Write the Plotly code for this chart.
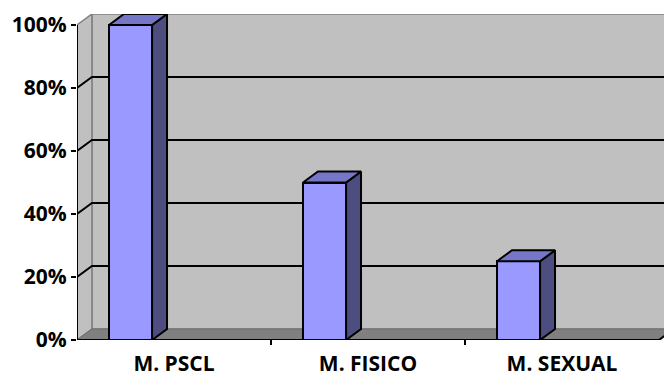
import plotly.graph_objects as go

categories = ["M. PSCL", "M. FISICO", "M. SEXUAL"]
values = [1.00, 0.50, 0.25]
y_ticks = [0, 0.2, 0.4, 0.6, 0.8, 1.0]

# 3-D box depth (axis units) and bar geometry within each category slot
DX = 0.077
DY = 0.035
BAR_W = 0.222
BAR_OFF = -0.335

WALL = "#C0C0C0"
FLOOR = "#808080"
EDGE = "#808080"
FRONT = "#9999FF"
TOP = "#7676C8"
SIDE = "#4D4D80"

xs = list(range(len(categories)))
X0, X1 = -0.5, len(categories) - 0.5


def path(pts, close=True):
    d = "M " + " L ".join(f"{x},{y}" for x, y in pts)
    return d + (" Z" if close else "")


shapes = []
# back wall
shapes.append(dict(type="path", xref="x", yref="y", layer="below",
                   path=path([(X0 + DX, DY), (X1 + DX, DY), (X1 + DX, 1 + DY), (X0 + DX, 1 + DY)]),
                   fillcolor=WALL, line=dict(color=EDGE, width=1.5)))
# left side wall
shapes.append(dict(type="path", xref="x", yref="y", layer="below",
                   path=path([(X0, 0), (X0, 1), (X0 + DX, 1 + DY), (X0 + DX, DY)]),
                   fillcolor=WALL, line=dict(color=EDGE, width=1.5)))
# gridlines running across the side wall and the back wall
for v in y_ticks[1:-1]:
    shapes.append(dict(type="path", xref="x", yref="y", layer="below",
                       path=path([(X0, v), (X0 + DX, v + DY), (X1 + DX, v + DY)], close=False),
                       line=dict(color="black", width=2)))
# floor
shapes.append(dict(type="path", xref="x", yref="y", layer="below",
                   path=path([(X0, 0), (X1, 0), (X1 + DX, DY), (X0 + DX, DY)]),
                   fillcolor=FLOOR, line=dict(color="#6E6E6E", width=1)))
# front edges of the box: value axis and category axis
shapes.append(dict(type="line", xref="x", yref="y", layer="above",
                   x0=X0, x1=X0, y0=0, y1=1, line=dict(color="black", width=2)))
shapes.append(dict(type="path", xref="x", yref="y", layer="above",
                   path=path([(X0, 0), (X1, 0), (X1 + DX, DY)], close=False),
                   line=dict(color="black", width=2)))
# category separators below the axis
for b in [i + 0.5 for i in xs[:-1]]:
    shapes.append(dict(type="line", xref="x", yref="paper", layer="above",
                       x0=b, x1=b, y0=0, y1=-0.015, line=dict(color="black", width=2)))

fig = go.Figure()

# bar front faces
fig.add_trace(go.Bar(x=xs, y=values, width=BAR_W, offset=BAR_OFF,
                     marker=dict(color=FRONT, line=dict(color="black", width=2)),
                     hoverinfo="skip", showlegend=False))

# bar side and top faces
for i, v in zip(xs, values):
    xl = i + BAR_OFF
    xr = xl + BAR_W
    side = [(xr, 0), (xr, v), (xr + DX, v + DY), (xr + DX, DY), (xr, 0)]
    top = [(xl, v), (xr, v), (xr + DX, v + DY), (xl + DX, v + DY), (xl, v)]
    for pts, col in ((side, SIDE), (top, TOP)):
        fig.add_trace(go.Scatter(x=[p[0] for p in pts], y=[p[1] for p in pts],
                                 mode="lines", fill="toself", fillcolor=col,
                                 line=dict(color="black", width=2),
                                 hoverinfo="skip", showlegend=False))

yfont = dict(family="Open Sans", size=21, color="black", weight="bold")
xfont = dict(family="Open Sans", size=21, color="black", weight="bold")

fig.update_layout(
    width=664, height=378,
    margin=dict(l=77, r=0, t=14, b=38),
    paper_bgcolor="white", plot_bgcolor="white",
    shapes=shapes,
    bargap=0,
    xaxis=dict(range=[X0, X0 + 587 / 194], tickvals=xs, ticktext=categories,
               ticks="", showgrid=False, zeroline=False, showline=False,
               tickfont=xfont, ticklabelstandoff=9, automargin=False),
    yaxis=dict(range=[0, 1 + DY], tickvals=y_ticks, tickformat=".0%",
               ticks="outside", ticklen=5, tickwidth=2, tickcolor="black",
               showgrid=False, zeroline=False, showline=False,
               tickfont=yfont, automargin=False),
)

fig.write_html("out.html")
